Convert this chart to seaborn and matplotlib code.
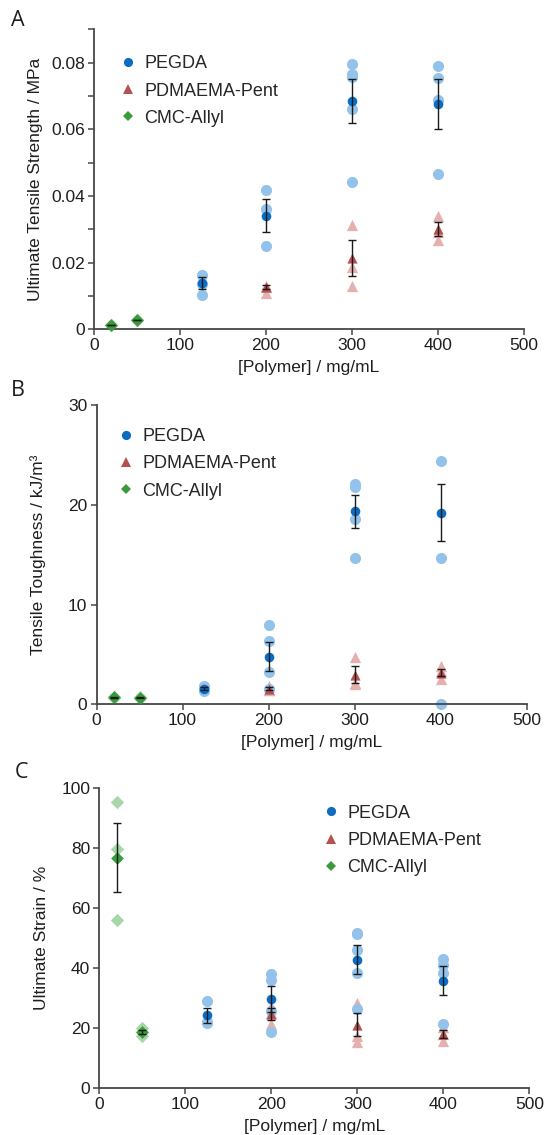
import matplotlib
matplotlib.use("Agg")
import matplotlib.pyplot as plt
import pandas as pd
import seaborn as sns
from matplotlib.lines import Line2D
from matplotlib.ticker import FixedLocator, FuncFormatter

sns.set_theme(style="ticks")
plt.rcParams["font.family"] = ["Liberation Sans", "DejaVu Sans"]

SERIES = ["PEGDA", "PDMAEMA-Pent", "CMC-Allyl"]

# ---- Panel A: ultimate tensile strength (MPa), individual gels ----
uts_pegda_x = [125, 125, 125, 200, 200, 200, 300, 300, 300, 300, 300, 400, 400, 400, 400]
uts_pegda_y = [0.0162, 0.0137, 0.0102, 0.0417, 0.0360, 0.0250,
               0.0795, 0.0767, 0.0757, 0.0661, 0.0443,
               0.0791, 0.0755, 0.0689, 0.0466]
uts_pdm_x = [200, 200, 200, 300, 300, 300, 400, 400, 400]
uts_pdm_y = [0.0130, 0.0126, 0.0110, 0.0313, 0.0188, 0.0130, 0.0340, 0.0293, 0.0268]
uts_cmc_x = [20, 20, 20, 50, 50, 50]
uts_cmc_y = [0.0013, 0.0014, 0.0012, 0.0028, 0.0029, 0.0027]
# group mean +/- s.e.m.
uts_pegda_mx = [125, 200, 300, 400]
uts_pegda_mean = [0.0139, 0.0341, 0.0686, 0.0676]
uts_pegda_sem = [0.0018, 0.0049, 0.0066, 0.0076]
uts_pdm_mx = [200, 300, 400]
uts_pdm_mean = [0.0127, 0.0214, 0.0302]
uts_pdm_sem = [0.0006, 0.0054, 0.0021]
uts_cmc_mx = [20, 50]
uts_cmc_mean = [0.0013, 0.0028]
uts_cmc_sem = [0.0001, 0.0001]

# ---- Panel B: tensile toughness (kJ/m^3) ----
tough_pegda_x = [125, 125, 125, 200, 200, 200, 200, 300, 300, 300, 300, 400, 400, 400]
tough_pegda_y = [1.85, 1.55, 1.35, 7.97, 6.31, 3.24, 1.57,
                 22.06, 21.76, 18.59, 14.71, 24.39, 14.71, 0.0]
tough_pdm_x = [200, 200, 200, 300, 300, 300, 400, 400, 400]
tough_pdm_y = [1.80, 1.47, 1.45, 4.74, 2.14, 2.05, 3.80, 3.30, 2.54]
tough_cmc_x = [20, 20, 20, 50, 50, 50]
tough_cmc_y = [0.74, 0.70, 0.66, 0.71, 0.67, 0.63]
tough_pegda_mx = [125, 200, 300, 400]
tough_pegda_mean = [1.57, 4.77, 19.35, 19.22]
tough_pegda_sem = [0.15, 1.47, 1.65, 2.85]
tough_pdm_mx = [200, 300, 400]
tough_pdm_mean = [1.57, 2.97, 3.18]
tough_pdm_sem = [0.12, 0.87, 0.33]
tough_cmc_mx = [20, 50]
tough_cmc_mean = [0.70, 0.67]
tough_cmc_sem = [0.04, 0.04]

# ---- Panel C: ultimate strain (%) ----
strain_pegda_x = [125, 125, 125, 200, 200, 200, 200, 300, 300, 300, 300, 300, 400, 400, 400, 400]
strain_pegda_y = [29.2, 22.0, 21.7, 38.1, 36.0, 25.7, 18.8,
                  51.8, 51.6, 46.1, 38.4, 26.3, 43.0, 41.0, 38.4, 21.3]
strain_pdm_x = [200, 200, 200, 300, 300, 300, 400, 400, 400]
strain_pdm_y = [27.5, 25.0, 21.5, 28.5, 17.6, 15.4, 20.4, 18.2, 15.9]
strain_cmc_x = [20, 20, 20, 50, 50, 50]
strain_cmc_y = [95.5, 79.7, 56.0, 20.2, 18.8, 17.6]
strain_pegda_mx = [125, 200, 300, 400]
strain_pegda_mean = [24.3, 29.7, 42.9, 35.9]
strain_pegda_sem = [2.4, 4.4, 4.75, 4.9]
strain_pdm_mx = [200, 300, 400]
strain_pdm_mean = [24.8, 21.2, 18.2]
strain_pdm_sem = [1.9, 3.9, 1.3]
strain_cmc_mx = [20, 50]
strain_cmc_mean = [76.9, 18.7]
strain_cmc_sem = [11.6, 0.75]

STYLE = {
    "PEGDA": dict(dark="#0b6cc1", light="#93c2ea", marker="o", s_raw=64, s_mean=48, ms=6.6),
    "PDMAEMA-Pent": dict(dark="#b5514e", light="#e7b0b0", marker="^", s_raw=66, s_mean=54, ms=6.8),
    "CMC-Allyl": dict(dark="#3b9a3b", light="#a7d6a7", marker="D", s_raw=46, s_mean=42, ms=5.4),
}
AXIS_COLOR = "#474747"
TEXT_COLOR = "#1e1e1e"
FS = 12.5
LEG_FS = 13


def frame(d):
    return pd.DataFrame(d)


def draw_panel(ax, raw, summary, ylim, major, minor, fmt, ylabel, leg_anchor):
    # light replicate markers (PDMAEMA below PEGDA, CMC last)
    for name in ["PDMAEMA-Pent", "PEGDA", "CMC-Allyl"]:
        st = STYLE[name]
        x, y = raw[name]
        sns.scatterplot(data=frame({"x": x, "y": y}), x="x", y="y", ax=ax,
                        color=st["light"], marker=st["marker"], s=st["s_raw"],
                        linewidth=0, legend=False, zorder=2, clip_on=False)
    # dark group means with s.e.m. bars
    for name in ["PDMAEMA-Pent", "PEGDA", "CMC-Allyl"]:
        st = STYLE[name]
        mx, mean, sem = summary[name]
        df = frame({"x": mx, "mean": mean, "sem": sem})
        sns.scatterplot(data=df, x="x", y="mean", ax=ax, color=st["dark"],
                        marker=st["marker"], s=st["s_mean"], linewidth=0,
                        legend=False, zorder=3, clip_on=False)
        ax.errorbar(df["x"], df["mean"], yerr=df["sem"], fmt="none",
                    ecolor="#1a1a1a", elinewidth=1.0, capsize=2.6,
                    capthick=1.0, zorder=4, clip_on=False)

    ax.set_xlim(0, 500)
    ax.set_ylim(*ylim)
    ax.xaxis.set_major_locator(FixedLocator([0, 100, 200, 300, 400, 500]))
    ax.yaxis.set_major_locator(FixedLocator(major))
    ax.yaxis.set_minor_locator(FixedLocator(minor))
    ax.yaxis.set_major_formatter(FuncFormatter(fmt))
    sns.despine(ax=ax)
    for side in ("left", "bottom"):
        ax.spines[side].set_color(AXIS_COLOR)
        ax.spines[side].set_linewidth(1.3)
    ax.tick_params(axis="both", which="both", direction="out", length=4,
                   width=1.1, color=AXIS_COLOR, labelsize=FS,
                   labelcolor=TEXT_COLOR, pad=2.5)
    ax.set_xlabel("[Polymer] / mg/mL", fontsize=FS, color=TEXT_COLOR, labelpad=5)
    ax.set_ylabel(ylabel, fontsize=FS, color=TEXT_COLOR)
    ax.yaxis.set_label_coords(-0.118, 0.5)
    ax.grid(False)

    handles = [Line2D([], [], linestyle="none", marker=STYLE[n]["marker"],
                      color=STYLE[n]["dark"], markersize=STYLE[n]["ms"],
                      markeredgewidth=0) for n in SERIES]
    ax.legend(handles, SERIES, loc="upper left", bbox_to_anchor=leg_anchor,
              frameon=False, fontsize=LEG_FS, handlelength=0.78, handletextpad=0.5,
              labelspacing=0.56, borderaxespad=0, borderpad=0)


fig = plt.figure(figsize=(5.48, 11.35), dpi=100)
W, H = 548.0, 1135.0


def add_axes(left_px, bottom_px, top_px, width_px=430.0):
    return fig.add_axes([left_px / W, (H - bottom_px) / H, width_px / W,
                         (bottom_px - top_px) / H])


ax_a = add_axes(94, 329.3, 29.3)
ax_b = add_axes(96.5, 704.3, 405.0)
ax_c = add_axes(99.3, 1088.3, 788.3)

draw_panel(
    ax_a,
    {"PEGDA": (uts_pegda_x, uts_pegda_y), "PDMAEMA-Pent": (uts_pdm_x, uts_pdm_y),
     "CMC-Allyl": (uts_cmc_x, uts_cmc_y)},
    {"PEGDA": (uts_pegda_mx, uts_pegda_mean, uts_pegda_sem),
     "PDMAEMA-Pent": (uts_pdm_mx, uts_pdm_mean, uts_pdm_sem),
     "CMC-Allyl": (uts_cmc_mx, uts_cmc_mean, uts_cmc_sem)},
    (0, 0.09), [0, 0.02, 0.04, 0.06, 0.08], [0.01, 0.03, 0.05, 0.07, 0.09],
    lambda v, p: "0" if v == 0 else f"{v:.2f}",
    "Ultimate Tensile Strength / MPa", (0.063, 0.913),
)
draw_panel(
    ax_b,
    {"PEGDA": (tough_pegda_x, tough_pegda_y), "PDMAEMA-Pent": (tough_pdm_x, tough_pdm_y),
     "CMC-Allyl": (tough_cmc_x, tough_cmc_y)},
    {"PEGDA": (tough_pegda_mx, tough_pegda_mean, tough_pegda_sem),
     "PDMAEMA-Pent": (tough_pdm_mx, tough_pdm_mean, tough_pdm_sem),
     "CMC-Allyl": (tough_cmc_mx, tough_cmc_mean, tough_cmc_sem)},
    (0, 30), [0, 10, 20, 30], [],
    lambda v, p: f"{v:.0f}",
    "Tensile Toughness / kJ/m\u00b3", (0.053, 0.922),
)
draw_panel(
    ax_c,
    {"PEGDA": (strain_pegda_x, strain_pegda_y), "PDMAEMA-Pent": (strain_pdm_x, strain_pdm_y),
     "CMC-Allyl": (strain_cmc_x, strain_cmc_y)},
    {"PEGDA": (strain_pegda_mx, strain_pegda_mean, strain_pegda_sem),
     "PDMAEMA-Pent": (strain_pdm_mx, strain_pdm_mean, strain_pdm_sem),
     "CMC-Allyl": (strain_cmc_mx, strain_cmc_mean, strain_cmc_sem)},
    (0, 100), [0, 20, 40, 60, 80, 100], [],
    lambda v, p: f"{v:.0f}",
    "Ultimate Strain / %", (0.523, 0.945),
)

for letter, (px, py) in {"A": (18, 21), "B": (18, 390), "C": (21, 773)}.items():
    fig.text(px / W, 1 - py / H, letter, fontsize=15.5, ha="center", va="center",
             color=TEXT_COLOR, family=["Open Sans", "DejaVu Sans"])

fig.savefig("out.png", dpi=100, facecolor="white")
